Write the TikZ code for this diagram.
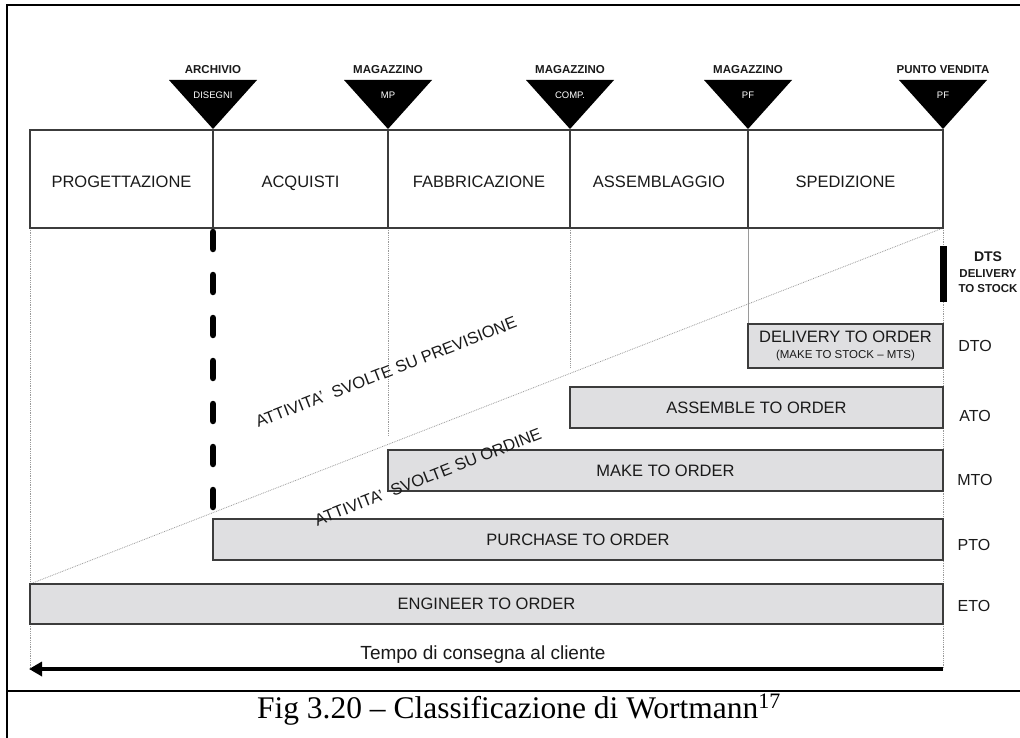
\documentclass[tikz,border=0pt]{standalone}
\usepackage{fontspec}
\setmainfont{Liberation Sans}
\newfontfamily\capfont{Liberation Serif}
\usetikzlibrary{arrows.meta}

\definecolor{ink}{HTML}{1A1A1A}
\definecolor{boxfill}{HTML}{DFDFE1}
\definecolor{boxline}{HTML}{3C3C3C}
\definecolor{guide}{HTML}{9A9A9A}

\tikzset{
  phase/.style={draw=boxline, line width=1.3pt, minimum height=98pt, inner sep=0pt,
    text height=18pt, text depth=0pt, text=ink, font=\fontsize{16.5}{19}\selectfont},
  store/.style={fill=black},
  storetop/.style={text=ink, font=\bfseries\fontsize{11.5}{12}\selectfont, inner sep=0pt},
  storein/.style={text=white, font=\fontsize{9.5}{10}\selectfont, inner sep=0pt},
  strategy/.style={draw=boxline, fill=boxfill, line width=1.5pt, inner sep=0pt,
    text=ink, font=\fontsize{16.5}{19}\selectfont},
  code/.style={text=ink, font=\fontsize{16}{19}\selectfont, inner sep=0pt},
  guideline/.style={guide, line width=0.8pt, densely dotted},
  slanted/.style={text=ink, font=\fontsize{16.5}{19}\selectfont, rotate=21.3, inner sep=0pt},
}

\begin{document}
\begin{tikzpicture}[x=1pt,y=-1pt]
\useasboundingbox (0,0) rectangle (1020,738);
\fill[white] (0,0) rectangle (1020,738);

% outer frame and caption row
\draw[line width=2.2pt] (7,738) -- (7,5) -- (1021,5);
\draw[line width=2pt] (7,691) -- (1021,691);

% guide lines below the phase row
\draw[guideline] (30,228) -- (30,584);
\draw[guideline] (30,624) -- (30,669);
\draw[guideline] (388,228) -- (388,436);
\draw[guideline] (570,228) -- (570,367);
\draw[guide, line width=0.9pt] (748,228) -- (748,324);
\draw[guideline] (943,228) -- (943,669);

% boundary between forecast-driven and order-driven activities
\coordinate (diagA) at (30,584);
\coordinate (diagB) at (943,228);
\draw[guideline] (diagA) -- (diagB);

% decoupling point after design
\coordinate (dashA) at (213,232);
\coordinate (dashB) at (213,508);
\draw[line width=6.5pt, line cap=round, dash pattern=on 17pt off 26pt] (dashA) -- (dashB);

% phase row
\node[phase, minimum width=183pt] (prog) at (121.5,179) {PROGETTAZIONE};
\node[phase, minimum width=175pt] (acq)  at (300.5,179) {ACQUISTI};
\node[phase, minimum width=182pt] (fab)  at (479,179)   {FABBRICAZIONE};
\node[phase, minimum width=178pt] (ass)  at (659,179)   {ASSEMBLAGGIO};
\node[phase, minimum width=195pt] (sped) at (845.5,179) {SPEDIZIONE};

% stock points (inverted triangles)
\foreach \cx/\nm/\top/\inner in {213/arch/ARCHIVIO/DISEGNI, 388/mp/MAGAZZINO/MP,
    570/comp/MAGAZZINO/COMP., 748/pf/MAGAZZINO/PF, 943/pv/PUNTO VENDITA/PF}{
  \fill[store] (\cx-44,80) -- (\cx+44,80) -- (\cx,129) -- cycle;
  \node[storetop] (\nm top) at (\cx,70) {\top};
  \node[storein]  (\nm in)  at (\cx,95) {\inner};
}

% strategy bars
\node[strategy, minimum width=195pt, minimum height=44pt, align=center] (dto) at (845.5,346)
  {DELIVERY TO ORDER\\[-3pt]{\fontsize{11.5}{13}\selectfont (MAKE TO STOCK – MTS)}};
\node[strategy, minimum width=373pt, minimum height=41pt] (ato) at (756.5,407.5) {ASSEMBLE TO ORDER};
\node[strategy, minimum width=555pt, minimum height=41pt] (mto) at (665.5,470.5) {MAKE TO ORDER};
\node[strategy, minimum width=730pt, minimum height=41pt] (pto) at (578,539.5) {PURCHASE TO ORDER};
\node[strategy, minimum width=913pt, minimum height=40pt] (eto) at (486.5,604) {ENGINEER TO ORDER};

% delivery to stock marker
\node[fill=black, minimum width=7pt, minimum height=55pt, inner sep=0pt] (dtsbar) at (943,274) {};
\node[text=ink, font=\bfseries\fontsize{14}{15}\selectfont, inner sep=0pt] (dts) at (988,257) {DTS};
\node[text=ink, font=\bfseries\fontsize{11.5}{15}\selectfont, inner sep=0pt, align=center] (dtsl) at (988,281)
  {DELIVERY\\TO STOCK};

% strategy codes
\node[code] (dtoc) at (975,346) {DTO};
\node[code] (atoc) at (975,416) {ATO};
\node[code] (mtoc) at (975,480) {MTO};
\node[code] (ptoc) at (974,545) {PTO};
\node[code] (etoc) at (974,606) {ETO};

% slanted region labels
\node[slanted] (forecast) at (386,372) {ATTIVITA’\ \ SVOLTE SU PREVISIONE};
\node[slanted] (order) at (428,477) {ATTIVITA’\ \ SVOLTE SU ORDINE};

% customer lead time
\node[text=ink, font=\fontsize{19}{22}\selectfont, inner sep=0pt] (lead) at (483,655) {Tempo di consegna al cliente};
\coordinate (leadR) at (943,669);
\coordinate (leadL) at (29,669);
\draw[line width=4.5pt, -{Triangle[length=13pt,width=14pt]}] (leadR) -- (leadL);

% caption
\node[anchor=base, inner sep=0pt, font=\capfont\fontsize{31.5}{34}\selectfont] (cap) at (519,718)
  {Fig 3.20 – Classificazione di Wortmann\textsuperscript{17}};
\end{tikzpicture}
\end{document}
